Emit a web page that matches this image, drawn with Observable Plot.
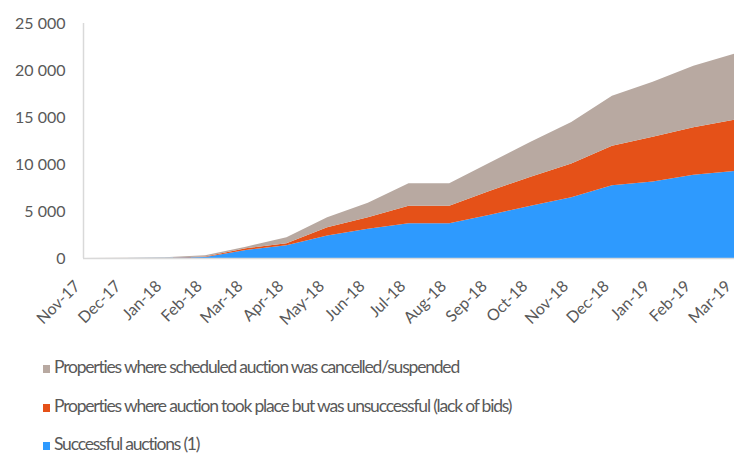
<!DOCTYPE html>
<html>
<head>
<meta charset="utf-8">
<script src="https://cdn.jsdelivr.net/npm/d3@7"></script>
<script src="https://cdn.jsdelivr.net/npm/@observablehq/plot@0.6"></script>
<style>
  body { margin: 0; background: #fff; font-family: "Lato", sans-serif; }
  #chart { position: relative; width: 736px; height: 453px; overflow: hidden; }
  .legend { position: absolute; left: 43px; top: 357px; font-size: 17.5px; letter-spacing: -1.2px; color: #595959; }
  .legend div { height: 38.5px; line-height: 20px; white-space: nowrap; }
  .legend span.sw { display: inline-block; width: 7px; height: 8px; margin-right: 4px; vertical-align: 0px; }
</style>
</head>
<body>
<div id="chart"></div>
<script>
const months = ["Nov-17","Dec-17","Jan-18","Feb-18","Mar-18","Apr-18","May-18","Jun-18","Jul-18","Aug-18","Sep-18","Oct-18","Nov-18","Dec-18","Jan-19","Feb-19","Mar-19"];
const successful   = [0, 0, 20, 100, 850, 1350, 2400, 3100, 3700, 3700, 4600, 5550, 6450, 7750, 8150, 8850, 9250];
const unsuccessful = [0, 0, 10, 50, 180, 210, 870, 1230, 1860, 1860, 2550, 3100, 3600, 4200, 4750, 5050, 5450];
const cancelled    = [0, 20, 40, 150, 170, 640, 1060, 1550, 2390, 2390, 3010, 3720, 4430, 5320, 5860, 6560, 7020];
const seriesNames = [
  "Successful auctions (1)",
  "Properties where auction took place but was unsuccessful (lack of bids)",
  "Properties where scheduled auction was cancelled/suspended"
];
const seriesColors = ["#2E9AFE", "#E55118", "#B8A9A1"];
const yTicks = [0, 5000, 10000, 15000, 20000, 25000];

const table = [];
[successful, unsuccessful, cancelled].forEach((vals, s) => {
  vals.forEach((v, i) => table.push({month: months[i], value: v, series: seriesNames[s]}));
});

const fmt = d => d3.format(",")(d).replace(/,/g, " ");

const plot = Plot.plot({
  width: 736,
  height: 345,
  marginLeft: 83,
  marginRight: 2,
  marginTop: 23,
  marginBottom: 87,
  style: { fontFamily: "Lato, sans-serif", fontSize: "15px", color: "#595959", background: "#fff" },
  x: { type: "point", domain: months, padding: 0, round: false, label: null },
  y: { domain: [0, 25000], label: null },
  color: { domain: seriesNames, range: seriesColors },
  marks: [
    Plot.areaY(table, { x: "month", y: "value", fill: "series", order: seriesNames, curve: "linear" }),
    Plot.ruleX([months[0]], { stroke: "#d9d9d9", strokeWidth: 1.5 }),
    Plot.ruleY([0], { stroke: "#d9d9d9", strokeWidth: 1.5 }),
    Plot.axisY({ ticks: yTicks, tickFormat: fmt, tickSize: 0, tickPadding: 18, fontSize: 16, label: null }),
    Plot.axisX({ tickRotate: -45, tickSize: 0, tickPadding: 17, fontSize: 16, dx: -6, dy: 8, label: null })
  ]
});
const chart = document.getElementById("chart");
chart.appendChild(plot);

const legend = document.createElement("div");
legend.className = "legend";
[2, 1, 0].forEach(i => {
  const row = document.createElement("div");
  const sw = document.createElement("span");
  sw.className = "sw";
  sw.style.background = seriesColors[i];
  row.appendChild(sw);
  row.appendChild(document.createTextNode(seriesNames[i]));
  legend.appendChild(row);
});
chart.appendChild(legend);
</script>
</body>
</html>
